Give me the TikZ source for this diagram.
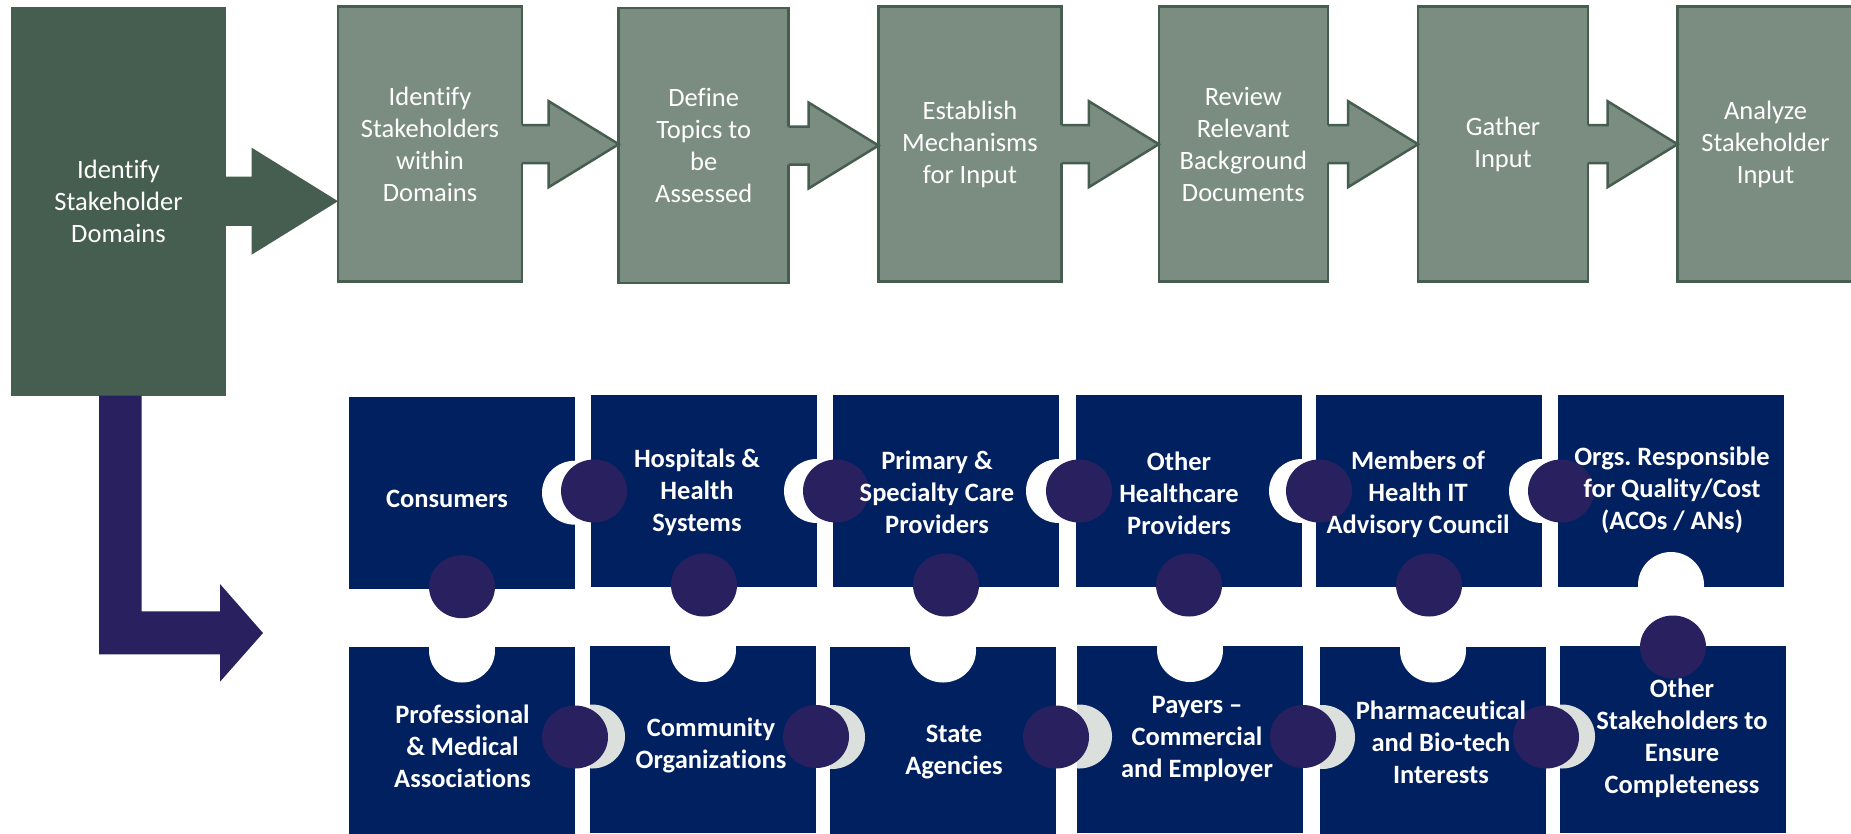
\documentclass[tikz,border=0pt]{standalone}
\usepackage{fontspec}
\setmainfont{Carlito}[Ligatures=NoCommon]
\frenchspacing
\usetikzlibrary{calc}
\definecolor{dkgreen}{HTML}{465E50}
\definecolor{ltgreen}{HTML}{7B8D81}
\definecolor{navy}{HTML}{002060}
\definecolor{knobpurple}{HTML}{29205F}
\definecolor{notchgray}{HTML}{DCE0DC}
\tikzset{
  stepbox/.style={rectangle, draw=dkgreen, line width=2.5pt, fill=ltgreen, anchor=north west,
    inner sep=0pt, outer sep=0pt, text=white, align=center, font=\fontsize{26.5}{32}\selectfont,
    minimum height=275pt},
  firstbox/.style={rectangle, fill=dkgreen, anchor=north west, inner sep=0pt, outer sep=0pt,
    text=white, align=center, font=\fontsize{26.5}{32}\selectfont},
  tile/.style={rectangle, fill=navy, anchor=north west, inner sep=0pt, outer sep=0pt,
    minimum width=226pt},
  toptile/.style={tile, minimum height=192pt},
  bottile/.style={tile, minimum height=187pt},
  tiletext/.style={text=white, align=center, font=\bfseries\fontsize{26.5}{32}\selectfont, inner sep=0pt},
  knob/.style={fill=knobpurple},
  hole/.style={fill=white},
  grayhole/.style={fill=notchgray},
  greenarrow/.style={fill=ltgreen},
  greenoutline/.style={draw=dkgreen, line width=2.5pt, line join=miter},
}
% block arrow: from, to, shaft half height, head half height, head length
\newcommand\blockfill[6]{%
  \fill[#6] let \p1=(#1.east), \p2=(#2.west) in
   (\x1-1.5pt,\y1+#3pt) -- (\x2-#5pt,\y1+#3pt) -- (\x2-#5pt,\y1+#4pt) -- (\x2,\y1)
   -- (\x2-#5pt,\y1-#4pt) -- (\x2-#5pt,\y1-#3pt) -- (\x1-1.5pt,\y1-#3pt) -- cycle;}
\newcommand\blockline[6]{%
  \draw[#6] let \p1=(#1.east), \p2=(#2.west) in
   (\x1,\y1+#3pt) -- (\x2-#5pt,\y1+#3pt) -- (\x2-#5pt,\y1+#4pt) -- (\x2,\y1)
   -- (\x2-#5pt,\y1-#4pt) -- (\x2-#5pt,\y1-#3pt) -- (\x1,\y1-#3pt);}
\newcommand\greenarrow[2]{%
  \blockfill{#1}{#2}{19}{43}{70}{greenarrow}%
  \blockline{#1}{#2}{19}{43}{70}{greenoutline}}
\begin{document}
\begin{tikzpicture}[x=1pt,y=-1pt]
\useasboundingbox (0,0) rectangle (1851,833);
\fill[white] (0,0) rectangle (1851,833);

% ---------- top flow ----------
\node[firstbox, minimum width=215pt, minimum height=389pt] (b1) at (11,6.7) {Identify\\Stakeholder\\Domains};
\node[stepbox, minimum width=184pt] (b2) at (338,6.7) {Identify\\Stakeholders\\within\\Domains};
\node[stepbox, minimum width=170pt] (b3) at (618.7,8) {Define\\Topics to\\be\\Assessed};
\node[stepbox, minimum width=183pt] (b4) at (878.5,6.7) {Establish\\Mechanisms\\for Input};
\node[stepbox, minimum width=169pt] (b5) at (1158.8,6.7) {Review\\Relevant\\Background\\Documents};
\node[stepbox, minimum width=170pt] (b6) at (1418,6.7) {Gather\\Input};
\node[stepbox, minimum width=176pt] (b7) at (1677.5,6.7) {Analyze\\Stakeholder\\Input};

\fill[dkgreen] let \p1=(b1.east), \p2=(b2.west) in
  (\x1-1pt,\y1+24.7pt) -- (\x2-86.5pt,\y1+24.7pt) -- (\x2-86.5pt,\y1+53.6pt) -- (\x2,\y1)
  -- (\x2-86.5pt,\y1-53.6pt) -- (\x2-86.5pt,\y1-24.7pt) -- (\x1-1pt,\y1-24.7pt) -- cycle;
\greenarrow{b2}{b3}
\greenarrow{b3}{b4}
\greenarrow{b4}{b5}
\greenarrow{b5}{b6}
\greenarrow{b6}{b7}

% ---------- L arrow ----------
\coordinate (lstart) at ($(b1.south west)+(88,0)$);
\coordinate (ltip) at (263,633);
\fill[knobpurple] let \p1=(lstart), \p2=(ltip) in
  (\x1,\y1) -- (\x1+42.5pt,\y1) -- (\x1+42.5pt,\y2+21.7pt) -- (\x2-43pt,\y2+21.7pt)
  -- (\x2-43pt,\y2+49pt) -- (\p2) -- (\x2-43pt,\y2-48.7pt) -- (\x2-43pt,\y2-21.3pt)
  -- (\x1,\y2-21.3pt) -- cycle;

% ---------- tiles ----------
\node[toptile] (t1) at (349,396.7) {};
\node[toptile] (t2) at (591,395) {};
\node[toptile] (t3) at (833,395) {};
\node[toptile] (t4) at (1076,395) {};
\node[toptile] (t5) at (1316,395) {};
\node[toptile] (t6) at (1558,395) {};
\node[bottile] (s1) at (349,646.5) {};
\node[bottile] (s2) at (590,646) {};
\node[bottile] (s3) at (830,646.5) {};
\node[bottile] (s4) at (1077,646) {};
\node[bottile] (s5) at (1320,646.5) {};
\node[bottile] (s6) at (1560,646) {};

% holes in top row (right side)
\foreach \a in {t1,t2,t3,t4,t5}{
  \begin{scope}
    \clip (\a.south west) rectangle (\a.north east);
    \fill[hole] ($(\a.north east)+(0,96)$) ellipse [x radius=33, y radius=32];
  \end{scope}
}
% holes in bottom row (top side)
\foreach \a in {s1,s2,s3,s4,s5}{
  \begin{scope}
    \clip (\a.south west) rectangle (\a.north east);
    \fill[hole] ($(\a.north)+(0,4)$) ellipse [x radius=33, y radius=32];
  \end{scope}
}
% hole at bottom of t6
\begin{scope}
  \clip (t6.south west) rectangle (t6.north east);
  \fill[hole] ($(t6.south)+(0,-2)$) ellipse [x radius=33, y radius=33];
\end{scope}
% gray holes in bottom row (left side)
\foreach \a in {s2,s3,s4,s5,s6}{
  \begin{scope}
    \clip (\a.south west) rectangle (\a.north east);
    \fill[grayhole] ($(\a.north west)+(2,90.5)$) ellipse [x radius=33, y radius=32];
  \end{scope}
}
% knobs: top row left side
\foreach \a in {t2,t3,t4,t5,t6}{
  \fill[knob] ($(\a.north west)+(3,96)$) ellipse [x radius=33, y radius=31.5];
}
% knobs: top row bottom side
\foreach \a in {t1,t2,t3,t4,t5}{
  \fill[knob] ($(\a.south)+(0,-2)$) ellipse [x radius=33, y radius=31.5];
}
% knobs: bottom row right side
\foreach \a in {s1,s2,s3,s4,s5}{
  \fill[knob] ($(\a.north east)+(0,90.5)$) ellipse [x radius=33, y radius=31.5];
}
% knob: top of s6
\fill[knob] ($(s6.north)+(0,1)$) ellipse [x radius=33, y radius=31.5];

% tile texts
\node[tiletext] (t1l) at ($(t1.center)+(-15,6)$) {Consumers};
\node[tiletext] (t2l) at ($(t2.center)+(-7,1)$) {Hospitals \&\\Health\\Systems};
\node[tiletext] (t3l) at ($(t3.center)+(-9,1)$) {Primary \&\\Specialty Care\\Providers};
\node[tiletext] (t4l) at ($(t4.center)+(-10,2)$) {Other\\Healthcare\\Providers};
\node[tiletext] (t5l) at ($(t5.center)+(-11,3)$) {Members of\\Health IT\\Advisory Council};
\node[tiletext] (t6l) at ($(t6.center)+(1,-1)$) {Orgs. Responsible\\for Quality/Cost\\(ACOs / ANs)};
\node[tiletext] (s1l) at ($(s1.center)+(0.5,6)$) {Professional\\\& Medical\\Associations};
\node[tiletext] (s2l) at ($(s2.center)+(8,6)$) {Community\\Organizations};
\node[tiletext] (s3l) at ($(s3.center)+(11,12)$) {State\\Agencies};
\node[tiletext] (s4l) at ($(s4.center)+(7,-1)$) {Payers –\\Commercial\\and Employer};
\node[tiletext] (s5l) at ($(s5.center)+(8,2)$) {Pharmaceutical\\and Bio-tech\\Interests};
\node[tiletext] (s6l) at ($(s6.center)+(9,-1)$) {Other\\Stakeholders to\\Ensure\\Completeness};
\end{tikzpicture}
\end{document}
